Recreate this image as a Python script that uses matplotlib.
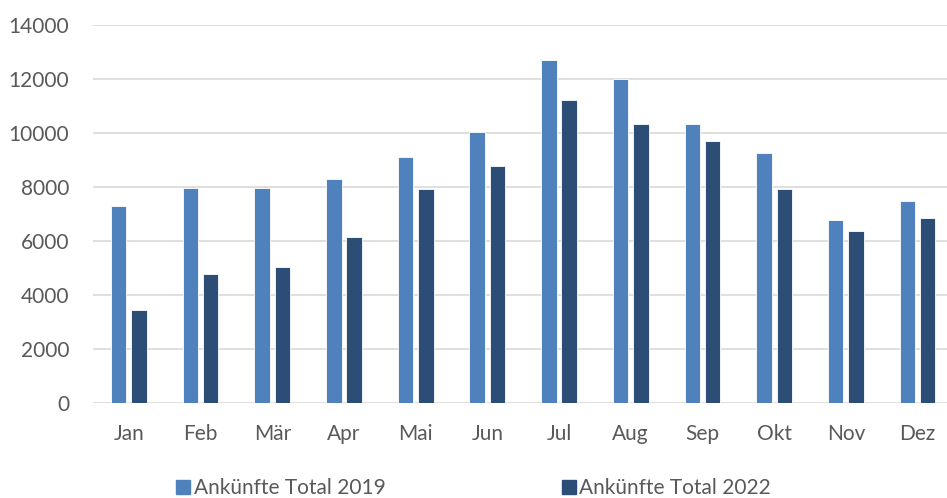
import matplotlib
matplotlib.use("Agg")
import matplotlib.pyplot as plt
import numpy as np
from matplotlib.lines import Line2D

months = ["Jan", "Feb", "Mär", "Apr", "Mai", "Jun", "Jul", "Aug", "Sep", "Okt", "Nov", "Dez"]
arrivals_2019 = [7280, 7960, 7960, 8280, 9090, 10040, 12700, 11990, 10340, 9240, 6770, 7480]
arrivals_2022 = [3450, 4780, 5030, 6160, 7910, 8760, 11200, 10340, 9710, 7910, 6360, 6860]
series_labels = ["Ankünfte Total 2019", "Ankünfte Total 2022"]
yticks = [0, 2000, 4000, 6000, 8000, 10000, 12000, 14000]

c2019 = "#4F81BD"
c2022 = "#2C4D75"
txt = "#595959"

plt.rcParams['font.family'] = ['Lato', 'DejaVu Sans']

W, H = 947, 498
fig = plt.figure(figsize=(W/100, H/100), dpi=100)
ax = fig.add_axes([93/W, (H-403.3)/H, (W-93)/W, (403.3-24.7)/H])

x = np.arange(len(months))
bw = 0.216
off = 0.142
ax.bar(x - off, arrivals_2019, bw, color=c2019, edgecolor="white", linewidth=0.6, zorder=3)
ax.bar(x + off, arrivals_2022, bw, color=c2022, edgecolor="white", linewidth=0.6, zorder=3)

ax.set_xlim(-0.5, -0.5 + (W-93)/71.7)
ax.set_ylim(0, 14000)
ax.set_yticks(yticks)
ax.set_yticklabels([str(v) for v in yticks])
ax.set_xticks(x)
ax.set_xticklabels(months)
ax.grid(axis='y', color="#D9D9D9", linewidth=1.2, zorder=0)
for s in ax.spines.values():
    s.set_visible(False)
ax.tick_params(axis='both', length=0, labelsize=15, colors=txt)
ax.tick_params(axis='y', pad=17)
ax.tick_params(axis='x', pad=15)

handles = [Line2D([], [], marker='s', linestyle='none', markersize=10, color=c2019),
           Line2D([], [], marker='s', linestyle='none', markersize=10, color=c2022)]
leg = fig.legend(handles, series_labels, loc='center', bbox_to_anchor=(473/W, (H-488)/H),
                 ncol=2, frameon=False, fontsize=15, handletextpad=0.1, handlelength=0.8,
                 columnspacing=8.4, labelcolor=txt)

fig.savefig("out.png", dpi=100)
